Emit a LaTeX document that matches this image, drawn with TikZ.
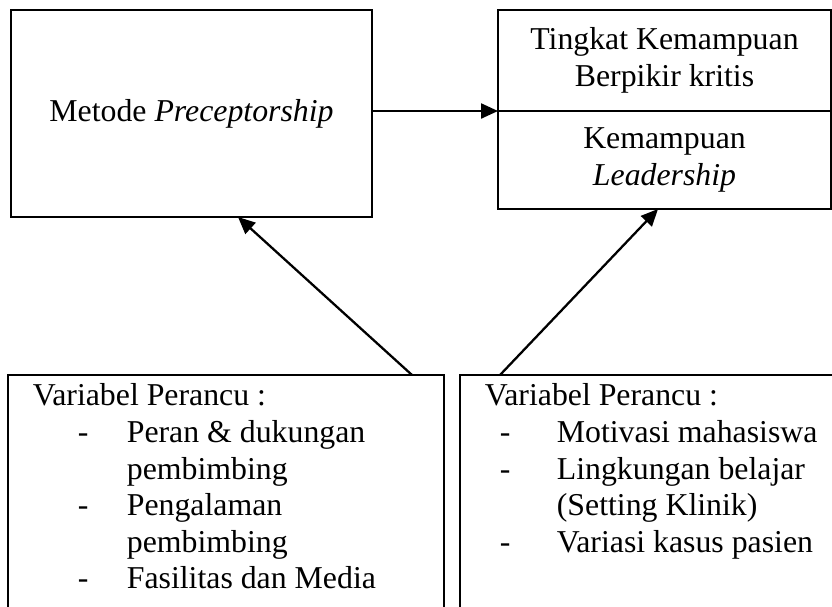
\documentclass[tikz,border=0pt]{standalone}
\usepackage{fontspec}
\setmainfont{Liberation Serif}
\usetikzlibrary{positioning,arrows.meta}
\newcommand{\listdash}[3]{\hspace*{#1}\makebox[#2][l]{-}#3}
\tikzset{
  frame/.style={draw, line width=1.2pt, outer sep=0pt, inner sep=0pt},
  vartext/.style={anchor=north west, align=left, inner sep=0pt, xshift=0.49cm, yshift=-0.17cm},
  link/.style={line width=1.3pt, -{Triangle[length=0.34cm,width=0.3cm]}}
}
\begin{document}
\begin{tikzpicture}[x=1cm,y=1cm,font=\fontsize{18.1}{20.8}\selectfont]
\useasboundingbox (0,0) rectangle (16.64,-12.12);
\clip (0,0) rectangle (16.64,-12.12);

\node[frame, minimum width=7.22cm, minimum height=4.14cm, align=center] (meth) at (3.83,-2.27) {Metode \textit{Preceptorship}};

\node[frame, minimum width=6.66cm, minimum height=2.02cm, align=center] (crit) at (13.29,-1.21) {Tingkat Kemampuan\\Berpikir kritis};
\node[frame, minimum width=6.66cm, minimum height=1.96cm, align=center, below=0pt of crit] (lead) {Kemampuan\\\textit{Leadership}};

\node[frame, anchor=north west, minimum width=8.72cm, minimum height=6cm] (conf1) at (0.16,-7.5) {};
\node[vartext] (conf1txt) at (conf1.north west) {Variabel Perancu :\\
\listdash{0.9cm}{0.98cm}{Peran \& dukungan}\\
\hspace*{1.88cm}pembimbing\\
\listdash{0.9cm}{0.98cm}{Pengalaman}\\
\hspace*{1.88cm}pembimbing\\
\listdash{0.9cm}{0.98cm}{Fasilitas dan Media}};

\node[frame, anchor=north west, minimum width=8cm, minimum height=6cm] (conf2) at (9.2,-7.5) {};
\node[vartext] (conf2txt) at (conf2.north west) {Variabel Perancu :\\
\listdash{0.3cm}{1.14cm}{Motivasi mahasiswa}\\
\listdash{0.3cm}{1.14cm}{Lingkungan belajar}\\
\hspace*{1.44cm}(Setting Klinik)\\
\listdash{0.3cm}{1.14cm}{Variasi kasus pasien}};

\draw[link] (meth.east |- crit.south) -- (crit.south west);
\draw[link] ([xshift=-0.64cm]conf1.north east) -- ([xshift=0.93cm]meth.south);
\draw[link] ([xshift=0.8cm]conf2.north west) -- ([xshift=-0.13cm]lead.south);
\end{tikzpicture}
\end{document}
